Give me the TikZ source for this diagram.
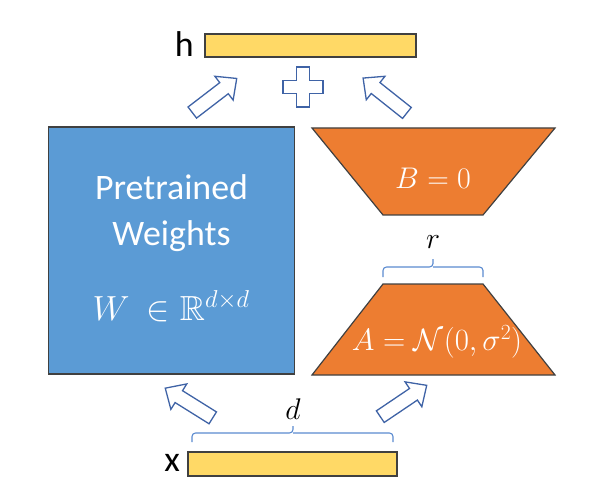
\RequirePackage{fix-cm}
\documentclass[tikz,border=0pt]{standalone}
\usepackage{amssymb}
\usepackage{fontspec}
\setmainfont{Carlito}
\definecolor{wblue}{HTML}{5B9BD5}
\definecolor{worange}{HTML}{ED7D31}
\definecolor{wyellow}{HTML}{FFD966}
\definecolor{edgegray}{HTML}{404040}
\definecolor{arrowblue}{HTML}{3F63A6}
\definecolor{braceblue}{HTML}{5B8BD0}
\tikzset{
  bar/.style={draw=edgegray, line width=1.2bp, fill=wyellow},
  barrow/.pic={\filldraw[draw=arrowblue, fill=white, line width=1.3bp, line join=miter]
     (-28,-7) -- (12,-7) -- (12,-15) -- (28,0) -- (12,15) -- (12,7) -- (-28,7) -- cycle;},
  bracestyle/.style={draw=braceblue, line width=1.1bp, rounded corners=3.5bp},
  trap/.style={draw=edgegray, line width=1.2bp, fill=worange, line join=miter},
  lbl/.style={font=\fontsize{36}{40}\selectfont, text=black, inner sep=0pt},
  wtxt/.style={text=white, align=center, inner sep=0pt},
}
\begin{document}
\begin{tikzpicture}[x=1bp,y=-1bp]
\useasboundingbox (0,0) rectangle (589,500);
% top output bar
\node[bar, minimum width=211bp, minimum height=23bp, inner sep=0pt] (h) at (310.5,45.5) {};
\node[lbl, anchor=east] (hl) at (194,44) {h};
% bottom input bar
\node[bar, minimum width=209bp, minimum height=24bp, inner sep=0pt] (x) at (292.5,464) {};
\node[lbl, anchor=east] (xl) at (180,463) {x};
% pretrained weights box
\node[draw=edgegray, line width=1.2bp, fill=wblue, minimum width=246bp, minimum height=247bp, inner sep=0pt] (W) at (171.5,250.5) {};
\node[wtxt, font=\fontsize{36}{44}\selectfont] (Wt) at (171.5,213) {Pretrained\\[2bp]Weights};
\node[wtxt, font=\fontsize{35}{40}\selectfont] (Wm) at (171,306) {$W\:\in\mathbb{R}^{d\times d}$};
% B trapezoid
\filldraw[trap] (312,128) -- (555,128) -- (483,215) -- (383,215) -- cycle;
\node[wtxt, font=\fontsize{30}{36}\selectfont] (B) at (433,178) {$B=0$};
% A trapezoid
\filldraw[trap] (383,284) -- (483,284) -- (555,375) -- (312,375) -- cycle;
\node[wtxt, font=\fontsize{31}{36}\selectfont] (A) at (437,342) {$A=\mathcal{N}(0,\sigma^2)$};
% r brace
\coordinate (r1) at (383,277);
\coordinate (r2) at (483,277);
\coordinate (rt) at (433,259);
\draw[bracestyle] (r1) -- (383,267) -- (433,267) -- (rt);
\draw[bracestyle] (r2) -- (483,267) -- (433,267);
\node[font=\fontsize{30}{36}\selectfont, inner sep=0pt] (r) at (433,242) {$r$};
% d brace
\coordinate (d1) at (192,442);
\coordinate (d2) at (393,442);
\coordinate (dt) at (293,426);
\draw[bracestyle] (d1) -- (192,433) -- (293,433) -- (dt);
\draw[bracestyle] (d2) -- (393,433) -- (293,433);
\node[font=\fontsize{30}{36}\selectfont, inner sep=0pt] (d) at (293,409) {$d$};
% block arrows
\pic[rotate=37.5] at (214.5,95.5) {barrow};
\pic[rotate=141.5] at (385,95.5) {barrow};
\pic[rotate=148] at (189,403) {barrow};
\pic[rotate=34] at (403.5,401) {barrow};
% plus sign
\filldraw[draw=arrowblue, fill=white, line width=1.3bp]
  (296.5,67) -- (309.5,67) -- (309.5,80.5) -- (323,80.5) -- (323,93.5) -- (309.5,93.5)
  -- (309.5,107) -- (296.5,107) -- (296.5,93.5) -- (283,93.5) -- (283,80.5) -- (296.5,80.5) -- cycle;
\end{tikzpicture}
\end{document}
